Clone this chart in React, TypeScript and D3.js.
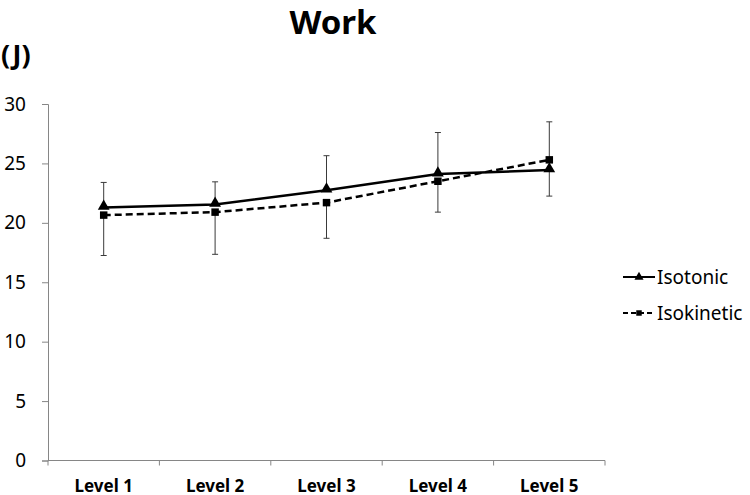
import * as d3 from "d3";
import React, { useEffect, useRef } from "react";

const levels = ["Level 1", "Level 2", "Level 3", "Level 4", "Level 5"];
const isotonic = [21.3, 21.55, 22.75, 24.1, 24.45];
const isokinetic = [20.65, 20.9, 21.7, 23.5, 25.3];
const isotonicErr = [2.1, 1.9, 2.9, 3.5, 2.2];
const isokineticErr = [3.4, 3.55, 3.0, 2.6, 3.2];
const yTicks = [0, 5, 10, 15, 20, 25, 30];

const FONT = "'Noto Sans', 'Open Sans', sans-serif";

const App = () => {
  const ref = useRef<SVGSVGElement>(null);

  useEffect(() => {
    const width = 750;
    const height = 495;
    const left = 48;
    const right = 605;
    const top = 104;
    const bottom = 460.5;

    const svg = d3.select(ref.current);
    svg.selectAll("*").remove();

    const x = d3.scaleBand().domain(levels).range([left, right]);
    const y = d3.scaleLinear().domain([0, 30]).range([bottom, top]);
    const cx = (d: string) => (x(d) as number) + x.bandwidth() / 2;

    // title + unit
    svg
      .append("text")
      .attr("x", 333)
      .attr("y", 34)
      .attr("text-anchor", "middle")
      .style("font-family", FONT)
      .style("font-size", "33px")
      .style("font-weight", "bold")
      .text("Work");

    svg
      .append("text")
      .attr("x", 1)
      .attr("y", 64)
      .style("font-family", FONT)
      .style("font-size", "27px")
      .style("font-weight", "bold")
      .text("(J)");

    // y axis
    const yAxis = svg
      .append("g")
      .attr("transform", `translate(${left},0)`)
      .call(d3.axisLeft(y).tickValues(yTicks).tickSize(6).tickPadding(16));
    yAxis.select(".domain").attr("stroke", "#868686");
    yAxis.selectAll(".tick line").attr("stroke", "#868686");
    yAxis
      .selectAll(".tick text")
      .attr("fill", "#000")
      .style("font-family", FONT)
      .style("font-size", "19px");

    // x axis (ticks between categories)
    const xAxis = svg.append("g").attr("transform", `translate(0,${bottom})`);
    xAxis
      .append("line")
      .attr("x1", left)
      .attr("x2", right)
      .attr("stroke", "#868686");
    const bounds = levels.map((d) => x(d) as number).concat([right]);
    xAxis
      .selectAll(".xt")
      .data(bounds)
      .enter()
      .append("line")
      .attr("x1", (d) => d)
      .attr("x2", (d) => d)
      .attr("y1", 0)
      .attr("y2", 5)
      .attr("stroke", "#868686");
    xAxis
      .selectAll(".xl")
      .data(levels)
      .enter()
      .append("text")
      .attr("x", cx)
      .attr("y", 31)
      .attr("text-anchor", "middle")
      .style("font-family", FONT)
      .style("font-size", "17px")
      .style("font-weight", "bold")
      .text((d) => d);

    // error bars: the higher series shows +SD, the lower shows -SD
    const bars = levels.map((d, i) => {
      const a = isotonic[i];
      const b = isokinetic[i];
      const up = a >= b ? a + isotonicErr[i] : b + isokineticErr[i];
      const down = a >= b ? b - isokineticErr[i] : a - isotonicErr[i];
      return { d, top: Math.max(a, b), up, low: Math.min(a, b), down };
    });
    const eb = svg.append("g").attr("stroke", "#3a3a3a").attr("stroke-width", 1);
    bars.forEach((b) => {
      const xc = cx(b.d);
      eb.append("line").attr("x1", xc).attr("x2", xc).attr("y1", y(b.up)).attr("y2", y(b.top));
      eb.append("line").attr("x1", xc).attr("x2", xc).attr("y1", y(b.low)).attr("y2", y(b.down));
      eb.append("line").attr("x1", xc - 3).attr("x2", xc + 3).attr("y1", y(b.up)).attr("y2", y(b.up));
      eb.append("line").attr("x1", xc - 3).attr("x2", xc + 3).attr("y1", y(b.down)).attr("y2", y(b.down));
    });

    const line = d3
      .line<number>()
      .x((d, i) => cx(levels[i]))
      .y((d) => y(d));

    svg
      .append("path")
      .datum(isokinetic)
      .attr("d", line)
      .attr("fill", "none")
      .attr("stroke", "#000")
      .attr("stroke-width", 2.5)
      .attr("stroke-dasharray", "7,4");
    svg
      .append("path")
      .datum(isotonic)
      .attr("d", line)
      .attr("fill", "none")
      .attr("stroke", "#000")
      .attr("stroke-width", 2.5);

    const tri = d3.symbol().type(d3.symbolTriangle).size(60);
    const sq = d3.symbol().type(d3.symbolSquare).size(56);

    svg
      .selectAll(".sq")
      .data(isokinetic)
      .enter()
      .append("path")
      .attr("d", sq)
      .attr("transform", (d, i) => `translate(${cx(levels[i])},${y(d)})`)
      .attr("fill", "#000");
    svg
      .selectAll(".tri")
      .data(isotonic)
      .enter()
      .append("path")
      .attr("d", tri)
      .attr("transform", (d, i) => `translate(${cx(levels[i])},${y(d) - 1})`)
      .attr("fill", "#000");

    // legend
    const legend = svg
      .selectAll(".legend")
      .data([
        { name: "Isotonic", dash: null, sym: d3.symbol().type(d3.symbolTriangle).size(36) },
        { name: "Isokinetic", dash: "5,3", sym: d3.symbol().type(d3.symbolSquare).size(30) },
      ])
      .enter()
      .append("g")
      .attr("transform", (d, i) => `translate(623, ${277 + i * 36})`);
    legend
      .append("line")
      .attr("x1", 0)
      .attr("x2", 32)
      .attr("stroke", "#000")
      .attr("stroke-width", 2)
      .attr("stroke-dasharray", (d) => d.dash);
    legend
      .append("path")
      .attr("d", (d) => d.sym())
      .attr("transform", "translate(16,0)")
      .attr("fill", "#000");
    legend
      .append("text")
      .attr("x", 34)
      .attr("y", 7)
      .style("font-family", FONT)
      .style("font-size", "19px")
      .text((d) => d.name);

    svg.attr("width", width).attr("height", height);
  }, []);

  return (
    <svg
      ref={ref}
      width={750}
      height={495}
      style={{ position: "absolute", left: 0, top: 0, background: "#fff" }}
    ></svg>
  );
};

export default App;
